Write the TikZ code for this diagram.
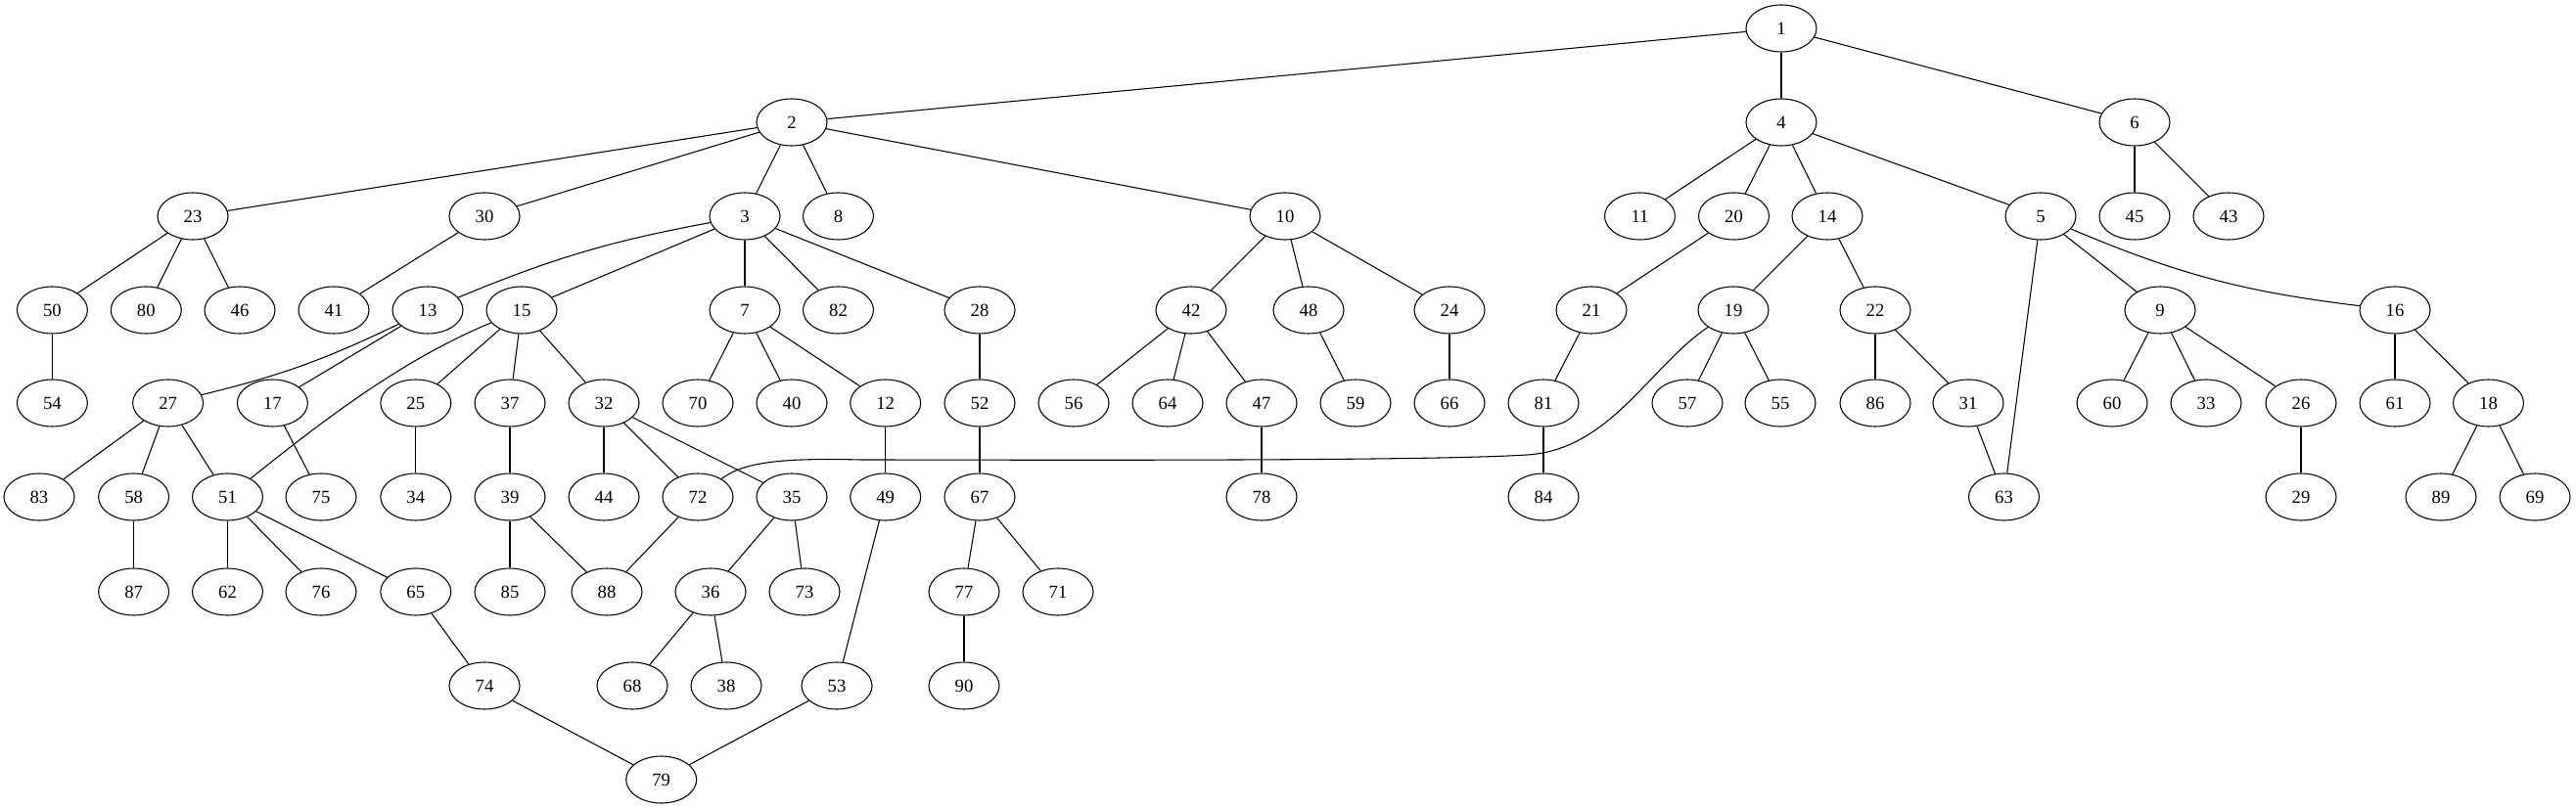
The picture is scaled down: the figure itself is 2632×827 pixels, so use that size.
\documentclass[tikz,border=0pt]{standalone}
\usepackage{fontspec}
\setmainfont{Liberation Serif}
\usetikzlibrary{shapes.geometric}
\begin{document}
\begin{tikzpicture}[x=0.75pt,y=-0.75pt,
  v/.style={draw, ellipse, minimum width=54pt, minimum height=36pt, inner sep=0pt, line width=0.8pt, font=\fontsize{14}{16}\selectfont},
  e/.style={line width=0.8pt}]
\useasboundingbox (0,0) rectangle (2632,827);
% row 0
\node[v] (n1) at (1820,29) {1};
% row 1
\foreach \n/\x in {2/809,4/1820,6/2181} \node[v] (n\n) at (\x,125) {\n};
% row 2
\foreach \n/\x in {23/197,30/495,3/761,8/856.5,10/1313,11/1675.5,20/1771.5,14/1867,5/2085,45/2181,43/2277} \node[v] (n\n) at (\x,221) {\n};
% row 3
\foreach \n/\x in {50/53.4,80/149.3,46/245,41/341,13/437,15/533,7/761,82/856.5,28/1001,42/1217,48/1337,24/1481,21/1626,19/1771,22/1916,9/2207,16/2447} \node[v] (n\n) at (\x,317) {\n};
% row 4
\foreach \n/\x in {54/53.4,27/171.6,17/278.4,25/424.8,37/521,32/617,70/713,40/809,12/904.7,52/1001,56/1097,64/1193,47/1289,59/1385,66/1481,81/1577,57/1724,55/1819,86/1916,31/2011,60/2158,33/2254,26/2351,61/2447,18/2542.5} \node[v] (n\n) at (\x,412) {\n};
% row 5
\foreach \n/\x in {83/40,58/136.6,51/232.5,75/328,34/424.8,39/521,44/617,72/713,35/809,49/904.7,67/1001,78/1289,84/1577,63/2047.5,29/2351,89/2494,69/2590} \node[v] (n\n) at (\x,508) {\n};
% row 6
\foreach \n/\x in {87/136.6,62/232.5,76/328,65/424.8,85/521,88/620,36/726,73/822,77/985,71/1081} \node[v] (n\n) at (\x,605) {\n};
% row 7
\foreach \n/\x in {74/495,68/646,38/742,53/855,90/985} \node[v] (n\n) at (\x,701) {\n};
% row 8
\node[v] (n79) at (675.7,797) {79};

% straight edges
\foreach \a/\b in {1/2,1/4,1/6,2/23,2/30,2/3,2/8,2/10,4/11,4/20,4/14,4/5,6/45,6/43,
  23/50,23/80,23/46,30/41,3/15,3/7,3/82,3/28,10/42,10/48,10/24,20/21,14/19,14/22,
  5/63,5/9,50/54,13/17,15/25,15/37,15/32,7/70,7/40,7/12,28/52,42/56,42/64,42/47,
  48/59,24/66,21/81,19/57,19/55,22/86,22/31,9/60,9/33,9/26,16/61,16/18,
  27/83,27/58,27/51,17/75,25/34,37/39,32/44,32/72,32/35,12/49,52/67,47/78,81/84,
  31/63,26/29,18/89,18/69,58/87,51/62,51/76,51/65,39/85,39/88,72/88,35/36,35/73,
  49/53,67/77,67/71,65/74,36/68,36/38,77/90,74/79,53/79}
  \draw[e] (n\a) -- (n\b);

% curved edges
\draw[e] (n3) to[bend right=6] (n13);
\draw[e] (n13) to[bend left=6] (n27);
\draw[e] (n5) to[bend right=8] (n16);
\draw[e] (n15) .. controls (410,368) and (330,430) .. (n51);
\draw[e] (n19) .. controls (1685,375) and (1645,460) .. (1560,465)
  .. controls (1450,472) and (1000,470) .. (880,470)
  .. controls (800,468) and (760,472) .. (n72);
\end{tikzpicture}
\end{document}
